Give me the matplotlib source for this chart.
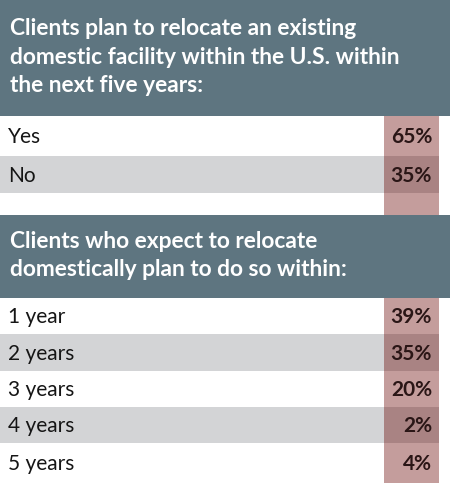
import matplotlib
matplotlib.use('Agg')
import matplotlib.pyplot as plt

# data
title1 = 'Clients plan to relocate an existing\ndomestic facility within the U.S. within\nthe next five years:'
q1_labels = ['Yes', 'No']
q1_values = [65, 35]

title2 = 'Clients who expect to relocate\ndomestically plan to do so within:'
q2_labels = ['1 year', '2 years', '3 years', '4 years', '5 years']
q2_values = [39, 35, 20, 2, 4]

HEAD = '#5e7580'
GRAY = '#d3d4d6'
PINK = '#670400'
W, H = 450, 483

plt.rcParams['font.family'] = ['Lato', 'DejaVu Sans']

fig = plt.figure(figsize=(W / 100, H / 100), dpi=100)
ax = fig.add_axes([0, 0, 1, 1])
ax.set_xlim(0, W)
ax.set_ylim(H, 0)
ax.axis('off')


def block(top, head_h, labels, values, row_h, title, pad_bottom=0):
    # header band
    ax.barh(top + head_h / 2, W, height=head_h, left=0, color=HEAD, lw=0)
    ax.text(10, top + head_h / 2 - 1, title, color='white', fontsize=16.4,
            fontweight='bold', va='center', ha='left', linespacing=1.42)
    y0 = top + head_h
    for i, (lab, val) in enumerate(zip(labels, values)):
        yc = y0 + row_h[i] / 2 + sum(row_h[:i])
        if i % 2 == 1:
            ax.barh(yc, 439, height=row_h[i], left=0, color=GRAY, lw=0)
        ax.text(8, yc + 1, lab, fontsize=15, fontweight='normal', color='#151515',
                va='center', ha='left')
        ax.text(432, yc + 1, f'{val}%', fontsize=15, fontweight='bold',
                color='#2a1616', va='center', ha='right', zorder=5)
    total = sum(row_h) + pad_bottom
    ax.bar(411.5, total, width=54.5, bottom=y0, color=PINK, alpha=0.39,
           lw=0, zorder=3)


block(0, 116, q1_labels, q1_values, [40, 37], title1, pad_bottom=22)
block(215, 83, q2_labels, q2_values, [36, 37, 36, 36, 40], title2)

fig.savefig('out.png', dpi=100)
